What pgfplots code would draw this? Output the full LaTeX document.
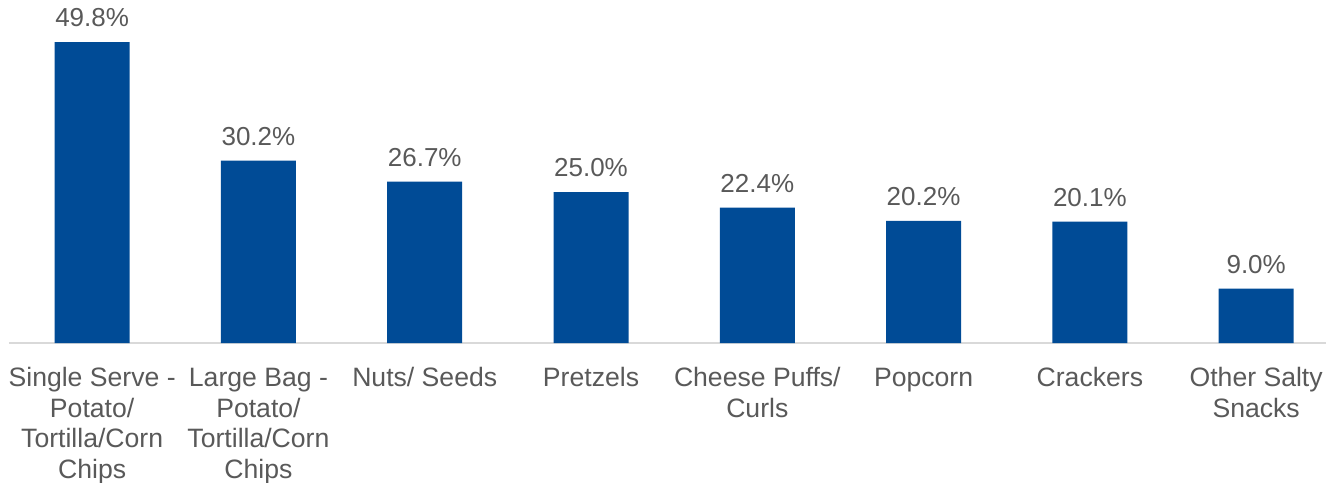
\documentclass[border=0pt]{standalone}
\usepackage{pgfplots}
\pgfplotsset{compat=1.18}
\usepackage{fontspec}
\setmainfont{Liberation Sans}
\definecolor{barblue}{HTML}{004B96}
\definecolor{txt}{HTML}{595959}
\definecolor{axgray}{HTML}{D9D9D9}
\begin{document}
\begin{tikzpicture}
\begin{axis}[
  scale only axis,
  width=658.5pt, height=166.1pt,
  xmin=-0.5, xmax=7.42,
  ymin=0, ymax=55,
  ybar, bar width=37.5pt,
  hide y axis,
  axis x line*=bottom,
  x axis line style={draw=axgray, line width=0.8pt, -},
  xtick=data,
  xtick style={draw=none},
  xticklabels={{\strut Single Serve -\\Potato/\\Tortilla/Corn\\Chips},{\strut Large Bag -\\Potato/\\Tortilla/Corn\\Chips},{\strut Nuts/ Seeds},{\strut Pretzels},{\strut Cheese Puffs/\\Curls},{\strut Popcorn},{\strut Crackers},{\strut Other Salty\\Snacks}},
  xticklabel style={align=center, font=\fontsize{13.3}{15.25}\selectfont, text=txt, yshift=-3.5pt},
  nodes near coords={\pgfmathprintnumber[fixed, fixed zerofill, precision=1]{\pgfplotspointmeta}\%},
  nodes near coords style={font=\fontsize{13}{15.25}\selectfont, text=txt, yshift=4pt},
  /pgf/number format/assume math mode=true,
  clip=false,
]
\addplot[fill=barblue, draw=none] coordinates {(0,49.8) (1,30.2) (2,26.7) (3,25.0) (4,22.4) (5,20.2) (6,20.1) (7,9.0)};
\end{axis}
\pgfresetboundingbox
\path (-4.5pt,-69.5pt) rectangle (658.5pt,171.5pt);
\end{tikzpicture}
\end{document}
